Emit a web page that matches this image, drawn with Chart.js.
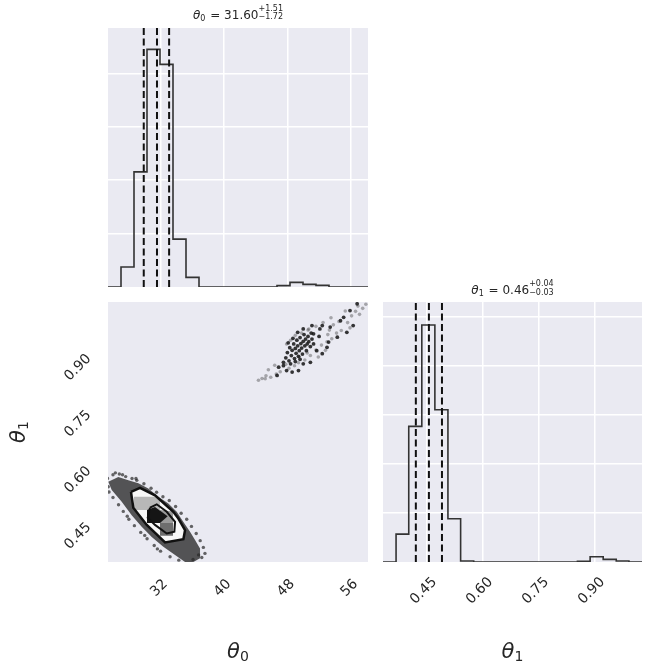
<!DOCTYPE html>
<html>
<head>
<meta charset="utf-8">
<script src="https://cdn.jsdelivr.net/npm/chart.js@4.4.0/dist/chart.umd.min.js"></script>
<style>
  body { margin:0; background:#fff; width:650px; height:670px; position:relative; overflow:hidden; }
  canvas { position:absolute; }
</style>
</head>
<body>
<canvas id="hist0" width="260" height="287" style="left:108px;top:0px"></canvas>
<canvas id="scatter" width="380" height="380" style="left:0px;top:290px"></canvas>
<canvas id="hist1" width="270" height="400" style="left:380px;top:270px"></canvas>
<script>
// theta_0 histogram
var edges0 = [25.37, 27.01, 28.65, 30.29, 31.93, 33.57, 35.21, 36.85, 38.49, 40.13, 41.77,
              43.41, 45.05, 46.69, 48.33, 49.97, 51.61, 53.25, 54.89, 56.53, 58.17];
var counts0 = [0, 374, 2156, 4449, 4168, 897, 181, 0, 0, 0, 0, 0, 0, 25, 87, 50, 31, 0, 0, 0];
var quant0 = [29.88, 31.55, 33.08];
var ticks0 = [32, 40, 48, 56];
var ymax0 = 4850;

// theta_1 histogram
var edges1 = [0.333, 0.368, 0.402, 0.437, 0.472, 0.507, 0.541, 0.576, 0.611, 0.645, 0.680,
              0.715, 0.749, 0.784, 0.819, 0.854, 0.888, 0.923, 0.958, 0.992, 1.027];
var counts1 = [0, 569, 2764, 4831, 3103, 881, 20, 0, 0, 0, 0, 0, 0, 0, 0, 14, 108, 54, 20, 0];
var quant1 = [0.421, 0.456, 0.491];
var ticks1 = [0.45, 0.60, 0.75, 0.90];
var ymax1 = 5300;

var countTicks = [1000, 2000, 3000, 4000, 5000];

// 2d panel: dense band of samples, contours and density cells (theta_0, theta_1)
var band = [[25.41,0.547],[26.67,0.560],[27.93,0.551],[29.2,0.543],[30.46,0.529],[31.72,0.507],
            [32.98,0.489],[34.04,0.467],[34.88,0.440],[35.72,0.414],[36.35,0.392],[36.98,0.369],
            [36.98,0.343],[36.14,0.333],[35.09,0.333],[33.83,0.352],[32.35,0.374],[30.89,0.400],
            [29.62,0.427],[28.36,0.458],[27.1,0.494],[25.84,0.525]];
var outer = [[28.27,0.520],[29.41,0.531],[31.30,0.511],[33.61,0.467],[34.25,0.449],[35.09,0.418],
             [34.88,0.394],[32.57,0.385],[30.26,0.432],[28.56,0.478]];
var inner = [[30.67,0.478],[31.52,0.487],[32.78,0.467],[33.83,0.440],[33.74,0.414],[32.78,0.409],
             [31.30,0.432],[30.38,0.451]];
var cellLight = [[28.65,0.507],[31.55,0.507],[31.93,0.499],[31.93,0.472],[28.65,0.472]];
var cellMid = [[31.93,0.472],[33.57,0.468],[33.57,0.437],[31.93,0.437]];
var cellDark = [[31.93,0.437],[33.57,0.437],[33.57,0.403],[31.93,0.403]];
var core = [[30.29,0.472],[31.3,0.480],[32.9,0.455],[31.93,0.437],[30.29,0.437]];

var pts0 = [[25.3,0.556],[26.0,0.566],[26.8,0.568],[27.6,0.561],[28.4,0.556],[29.0,0.551],[29.9,0.542],
            [30.8,0.530],[31.5,0.519],[32.3,0.507],[33.1,0.497],[33.9,0.481],[34.6,0.463],[35.3,0.447],
            [35.9,0.428],[36.5,0.409],[37.0,0.390],[37.4,0.372],[37.6,0.356],[37.2,0.345],[34.3,0.338],
            [33.2,0.347],[32.0,0.362],[31.2,0.377],[30.3,0.395],[29.5,0.412],[28.7,0.430],[28.0,0.447],
            [27.3,0.468],[26.7,0.486],[26.0,0.505],[25.5,0.520],[25.4,0.534],[30.0,0.404],[31.6,0.368],
            [27.8,0.455],[26.3,0.571],[27.2,0.566],[28.9,0.556],[36.8,0.352],[36.1,0.340]];
var pts1Dark = [[47.8,0.878],[48.0,0.892],[48.2,0.870],[48.3,0.905],[48.5,0.884],[48.6,0.898],[48.8,0.915],
            [48.9,0.876],[49.0,0.903],[49.1,0.890],[49.2,0.925],[49.3,0.910],[49.4,0.882],[49.5,0.897],
            [49.6,0.932],[49.7,0.916],[49.8,0.904],[49.9,0.888],[50.0,0.922],[50.1,0.940],[50.2,0.910],
            [50.3,0.928],[50.4,0.897],[50.5,0.915],[50.6,0.935],[50.7,0.921],[50.9,0.908],[51.0,0.944],
            [51.1,0.928],[51.3,0.915],[48.4,0.862],[49.0,0.868],[49.6,0.874],[47.5,0.866],[48.1,0.918],
            [48.7,0.930],[49.3,0.946],[50.0,0.955],[51.1,0.964],[52.4,0.964],[52.1,0.955],[53.4,0.960],
            [53.2,0.920],[54.3,0.933],[55.5,0.946],[52.0,0.935],[51.7,0.897],[52.4,0.889],[53.0,0.906],
            [51.3,0.942],[47.9,0.844],[48.6,0.840],[49.4,0.844],[50.0,0.862],[50.9,0.866],[46.9,0.853],
            [47.5,0.857],[46.7,0.831],[56.8,1.022],[55.9,1.004],[55.1,0.986],[54.7,0.977],[56.3,0.964]];
var pts1Light = [[44.35,0.818],[45.2,0.822],[44.8,0.823],[45.3,0.830],[45.9,0.826],[46.6,0.835],[47.1,0.841],
            [46.4,0.858],[45.6,0.846],[48.2,0.850],[48.9,0.857],[49.4,0.865],[50.2,0.872],[50.9,0.884],
            [51.6,0.899],[52.3,0.912],[53.0,0.921],[53.6,0.929],[54.2,0.944],[54.8,0.951],[53.8,0.966],
            [54.5,0.975],[55.6,0.972],[56.1,0.990],[56.6,1.002],[57.1,0.994],[57.5,1.010],[57.9,1.021],
            [56.9,1.016],[55.3,1.003],[53.5,0.985],[52.5,0.972],[51.6,0.962],[48.4,0.925],[47.9,0.915],
            [49.8,0.944],[50.7,0.955],[53.3,0.952],[55.9,0.958],[47.8,0.861],[49.5,0.880],[50.5,0.891],
            [53.1,0.940],[52.8,0.898],[51.9,0.880],[50.6,0.952],[49.0,0.938]];

var textCol = '#262626';
Chart.defaults.font.family = '"DejaVu Sans"';
Chart.defaults.animation = false;

function xy(arr){ return arr.map(function(p){ return {x: p[0], y: p[1]}; }); }
function closed(arr){ return xy(arr.concat([arr[0]])); }

function stepPoints(edges, counts){
    var p = [{x: edges[0], y: 0}];
    for (var i = 0; i < counts.length; i++){
        p.push({x: edges[i], y: counts[i]});
        p.push({x: edges[i + 1], y: counts[i]});
    }
    p.push({x: edges[edges.length - 1], y: 0});
    return p;
}

function setTicks(vals){
    return function(s){
        s.ticks = vals.filter(function(v){ return v >= s.min && v <= s.max; })
                      .map(function(v){ return {value: v}; });
    };
}

// fixed axis box, no extra room for the end labels
function fixSize(w, h){
    return function(s){
        if (w !== null) s.width = w;
        if (h !== null) s.height = h;
        s.paddingTop = 0; s.paddingBottom = 0; s.paddingLeft = 0; s.paddingRight = 0;
    };
}

var panelBg = {
    id: 'panelBg',
    beforeDraw: function(chart){
        var a = chart.chartArea, ctx = chart.ctx;
        ctx.save();
        ctx.fillStyle = '#EAEAF2';
        ctx.fillRect(a.left, a.top, a.right - a.left, a.bottom - a.top);
        ctx.restore();
    }
};

// title like  θ0 = 31.60 (+1.51 / -1.72)
var mathTitle = {
    id: 'mathTitle',
    afterDraw: function(chart, args, o){
        if (!o.val) return;
        var ctx = chart.ctx, a = chart.chartArea;
        var base = a.top - o.dy;
        var big = '12px "DejaVu Sans"', it = 'italic 12px "DejaVu Sans"', small = '8px "DejaVu Sans"';
        ctx.save();
        ctx.fillStyle = textCol;
        ctx.textBaseline = 'alphabetic';
        ctx.textAlign = 'left';
        ctx.font = it; var wT = ctx.measureText('θ').width;
        ctx.font = small; var wS = ctx.measureText(o.sub).width + 1;
        ctx.font = big; var wM = ctx.measureText(' = ' + o.val).width;
        ctx.font = small; var wE = Math.max(ctx.measureText(o.plus).width, ctx.measureText(o.minus).width);
        var x = (a.left + a.right) / 2 - (wT + wS + wM + wE) / 2;
        ctx.font = it; ctx.fillText('θ', x, base); x += wT;
        ctx.font = small; ctx.fillText(o.sub, x, base + 2); x += wS;
        ctx.font = big; ctx.fillText(' = ' + o.val, x, base); x += wM;
        ctx.font = small;
        ctx.fillText(o.plus, x, base - 8);
        ctx.fillText(o.minus, x, base + 0.5);
        ctx.restore();
    }
};

// axis labels θ with an upright subscript
var axisTitles = {
    id: 'axisTitles',
    afterDraw: function(chart, args, o){
        var ctx = chart.ctx, a = chart.chartArea;
        (o.items || []).forEach(function(t){
            var cx = t.axis === 'x' ? (a.left + a.right) / 2 : t.pos;
            var cy = t.axis === 'x' ? t.pos : (a.top + a.bottom) / 2;
            ctx.save();
            ctx.translate(cx, cy);
            if (t.axis === 'y') ctx.rotate(-Math.PI / 2);
            ctx.fillStyle = textCol;
            ctx.textBaseline = 'alphabetic';
            ctx.textAlign = 'left';
            ctx.font = 'italic 21px "DejaVu Sans"'; var w1 = ctx.measureText('θ').width;
            ctx.font = '14px "DejaVu Sans"'; var w2 = ctx.measureText(t.sub).width;
            var x = -(w1 + w2) / 2;
            ctx.font = 'italic 21px "DejaVu Sans"'; ctx.fillText('θ', x, 8);
            ctx.font = '14px "DejaVu Sans"'; ctx.fillText(t.sub, x + w1, 11);
            ctx.restore();
        });
    }
};

function histChart(id, edges, counts, quant, ticks, ymax, title, pad, xAxis, labels){
    var ds = [{
        data: stepPoints(edges, counts),
        showLine: true, pointRadius: 0, borderColor: '#333333', borderWidth: 1.6, fill: false, order: 2
    }];
    quant.forEach(function(q){
        ds.push({
            data: [{x: q, y: 0}, {x: q, y: ymax}],
            showLine: true, pointRadius: 0, borderColor: '#111111', borderWidth: 2,
            borderDash: [7, 3.5], fill: false, order: 1
        });
    });
    return new Chart(document.getElementById(id), {
        type: 'scatter',
        data: { datasets: ds },
        options: {
            responsive: false,
            layout: { padding: pad },
            plugins: { legend: { display: false }, tooltip: { enabled: false },
                       mathTitle: title, axisTitles: labels },
            scales: {
                x: Object.assign({
                    type: 'linear', min: edges[0], max: edges[edges.length - 1],
                    afterBuildTicks: setTicks(ticks),
                    grid: { color: '#ffffff', lineWidth: 1.5, drawTicks: false },
                    border: { display: false }
                }, xAxis),
                y: {
                    type: 'linear', min: 0, max: ymax,
                    afterBuildTicks: setTicks(countTicks),
                    ticks: { display: false },
                    grid: { color: '#ffffff', lineWidth: 1.5, drawTicks: false },
                    border: { display: false },
                    afterFit: fixSize(0, null)
                }
            }
        },
        plugins: [panelBg, mathTitle, axisTitles]
    });
}

histChart('hist0', edges0, counts0, quant0, ticks0, ymax0,
    { val: '31.60', sub: '0', plus: '+1.51', minus: '\u22121.72', dy: 9.5 },
    { top: 28, left: 0, right: 0, bottom: 0 },
    { ticks: { display: false }, afterFit: fixSize(null, 0) },
    { items: [] });

histChart('hist1', edges1, counts1, quant1, ticks1, ymax1,
    { val: '0.46', sub: '1', plus: '+0.04', minus: '\u22120.03', dy: 8 },
    { top: 32, left: 3, right: 8, bottom: 0 },
    {
        ticks: { display: true, minRotation: 45, maxRotation: 45, padding: 12, labelOffset: 8,
                 font: { size: 14 }, color: textCol,
                 callback: function(v){ return Number(v).toFixed(2); } },
        afterFit: fixSize(null, 108)
    },
    { items: [{ axis: 'x', pos: 380, sub: '1' }] });

function poly(arr, fillCol, lineCol, lw, order){
    return {
        data: closed(arr), showLine: true, pointRadius: 0, order: order,
        fill: fillCol ? 'shape' : false,
        backgroundColor: fillCol || 'rgba(0,0,0,0)',
        borderColor: lineCol || 'rgba(0,0,0,0)', borderWidth: lw
    };
}
function dots(arr, col, r, order){
    return { data: xy(arr), pointRadius: r, pointHoverRadius: r, pointBorderWidth: 0,
             backgroundColor: col, borderColor: col, order: order };
}

new Chart(document.getElementById('scatter'), {
    type: 'scatter',
    data: {
        datasets: [
            poly(band, 'rgba(45,45,45,0.8)', null, 0, 20),
            dots(pts0, 'rgba(40,40,40,0.7)', 1.7, 19),
            dots(pts1Light, 'rgba(60,60,60,0.4)', 1.8, 18),
            dots(pts1Dark, 'rgba(20,20,20,0.85)', 1.9, 17),
            poly(outer, '#f8f8f8', null, 0, 10),
            poly(cellLight, '#b8b8b8', null, 0, 9),
            poly(cellMid, '#9a9a9a', null, 0, 8),
            poly(cellDark, '#6e6e6e', null, 0, 7),
            poly(core, '#151515', null, 0, 6),
            poly(outer, null, '#111111', 2.5, 5),
            poly(inner, null, '#111111', 2, 4)
        ]
    },
    options: {
        responsive: false,
        layout: { padding: { top: 12, right: 12, left: 0, bottom: 0 } },
        plugins: { legend: { display: false }, tooltip: { enabled: false },
                   axisTitles: { items: [{ axis: 'x', pos: 360, sub: '0' }, { axis: 'y', pos: 17, sub: '1' }] } },
        scales: {
            x: {
                type: 'linear', min: edges0[0], max: edges0[edges0.length - 1],
                afterBuildTicks: setTicks(ticks0),
                ticks: { minRotation: 45, maxRotation: 45, padding: 14, labelOffset: 5,
                         font: { size: 14 }, color: textCol,
                         callback: function(v){ return String(v); } },
                grid: { display: false, drawTicks: false },
                border: { display: false },
                afterFit: fixSize(null, 108)
            },
            y: {
                type: 'linear', min: edges1[0], max: edges1[edges1.length - 1],
                afterBuildTicks: setTicks(ticks1),
                ticks: { minRotation: 45, maxRotation: 45, padding: 19, labelOffset: 7,
                         font: { size: 14 }, color: textCol,
                         callback: function(v){ return Number(v).toFixed(2); } },
                grid: { display: false, drawTicks: false },
                border: { display: false },
                afterFit: fixSize(108, null)
            }
        }
    },
    plugins: [panelBg, axisTitles]
});
</script>
</body>
</html>
